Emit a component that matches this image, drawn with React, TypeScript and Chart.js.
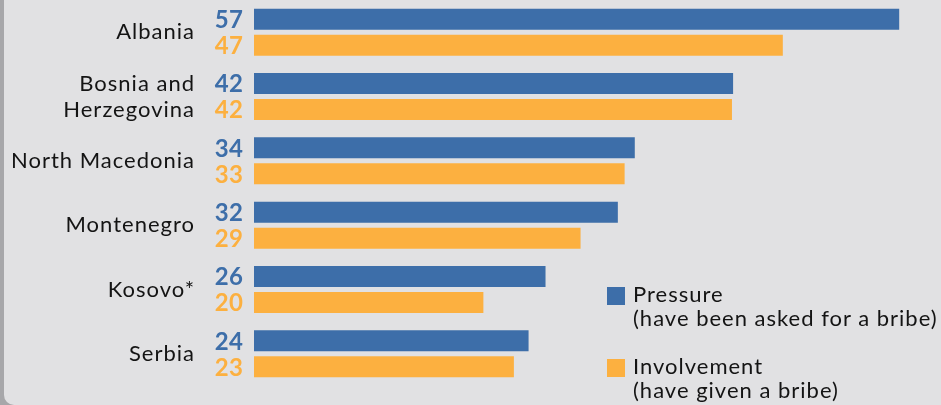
import React, { useEffect, useRef } from "react";
import { Chart, registerables } from "chart.js";

Chart.register(...registerables);

const countries: string[][] = [
  ["Albania"],
  ["Bosnia and", "Herzegovina"],
  ["North Macedonia"],
  ["Montenegro"],
  ["Kosovo*"],
  ["Serbia"],
];
const pressure = [57.1, 42.4, 33.7, 32.2, 25.8, 24.3];
const involvement = [46.8, 42.3, 32.8, 28.9, 20.3, 23.0];
const pressureLabels = ["57", "42", "34", "32", "26", "24"];
const involvementLabels = ["47", "42", "33", "29", "20", "23"];
const seriesNames = ["Pressure", "Involvement"];
const seriesNotes = ["(have been asked for a bribe)", "(have given a bribe)"];

const BLUE = "#3d6ea9";
const ORANGE = "#fcb040";
const FONT = "Lato, 'Open Sans', sans-serif";

const textPlugin = {
  id: "textPlugin",
  afterDatasetsDraw(chart: any) {
    const { ctx, chartArea } = chart;
    const yScale = chart.scales.y;
    const valueLabels = [pressureLabels, involvementLabels];
    ctx.save();
    // value labels
    ctx.font = `bold 24px ${FONT}`;
    ctx.textAlign = "right";
    ctx.textBaseline = "middle";
    try { (ctx as any).letterSpacing = "0.5px"; } catch (e) {}
    chart.data.datasets.forEach((ds: any, i: number) => {
      const meta = chart.getDatasetMeta(i);
      ctx.fillStyle = ds.backgroundColor;
      meta.data.forEach((el: any, j: number) => {
        ctx.fillText(valueLabels[i][j], chartArea.left - 10.5, el.y + 1);
      });
    });
    // country labels
    ctx.font = `22px ${FONT}`;
    try { (ctx as any).letterSpacing = "1px"; } catch (e) {}
    ctx.fillStyle = "#141414";
    const lh = 26;
    countries.forEach((lines, j) => {
      const cy = yScale.getPixelForValue(j);
      const start = cy - ((lines.length - 1) * lh) / 2;
      lines.forEach((line, k) => {
        ctx.fillText(line, chartArea.left - 59, start + k * lh);
      });
    });
    ctx.restore();
  },
};

export default function App() {
  const ref = useRef<HTMLCanvasElement | null>(null);

  useEffect(() => {
    if (!ref.current) return;
    const chart = new Chart(ref.current, {
      type: "bar",
      data: {
        labels: countries.map((c) => c.join(" ")),
        datasets: [
          {
            label: seriesNames[0],
            data: pressure,
            backgroundColor: BLUE,
            categoryPercentage: 0.807,
            barPercentage: 0.808,
          },
          {
            label: seriesNames[1],
            data: involvement,
            backgroundColor: ORANGE,
            categoryPercentage: 0.807,
            barPercentage: 0.808,
          },
        ],
      },
      options: {
        indexAxis: "y",
        animation: false,
        responsive: true,
        maintainAspectRatio: false,
        layout: { padding: { left: 254, right: 0, top: 0, bottom: 19 } },
        plugins: {
          legend: { display: false },
          tooltip: { enabled: false },
        },
        scales: {
          x: { display: false, min: 0, max: 60.8 },
          y: { display: false },
        },
      },
      plugins: [textPlugin],
    });
    return () => chart.destroy();
  }, []);

  const legendItem = (color: string, name: string, note: string, top: number) => (
    <div style={{ position: "absolute", left: 607, top, fontFamily: FONT, fontSize: 22, letterSpacing: "1px", color: "#141414", lineHeight: "24px" }}>
      <div style={{ position: "absolute", left: 0, top: 5, width: 18, height: 18, background: color }} />
      <div style={{ position: "absolute", left: 26, top: 0, whiteSpace: "nowrap" }}>
        {name}
        <br />
        {note}
      </div>
    </div>
  );

  return (
    <div style={{ position: "fixed", left: 0, top: 0, width: 941, height: 405, background: "#a7a7aa", overflow: "hidden" }}>
      <div style={{ position: "absolute", left: 4, top: 0, width: 937, height: 405, background: "#e1e1e3", borderBottomLeftRadius: 10 }} />
      <div style={{ position: "absolute", left: 0, top: 0, width: 941, height: 405 }}>
        <canvas ref={ref} />
      </div>
      {legendItem(BLUE, seriesNames[0], seriesNotes[0], 282)}
      {legendItem(ORANGE, seriesNames[1], seriesNotes[1], 354)}
    </div>
  );
}
